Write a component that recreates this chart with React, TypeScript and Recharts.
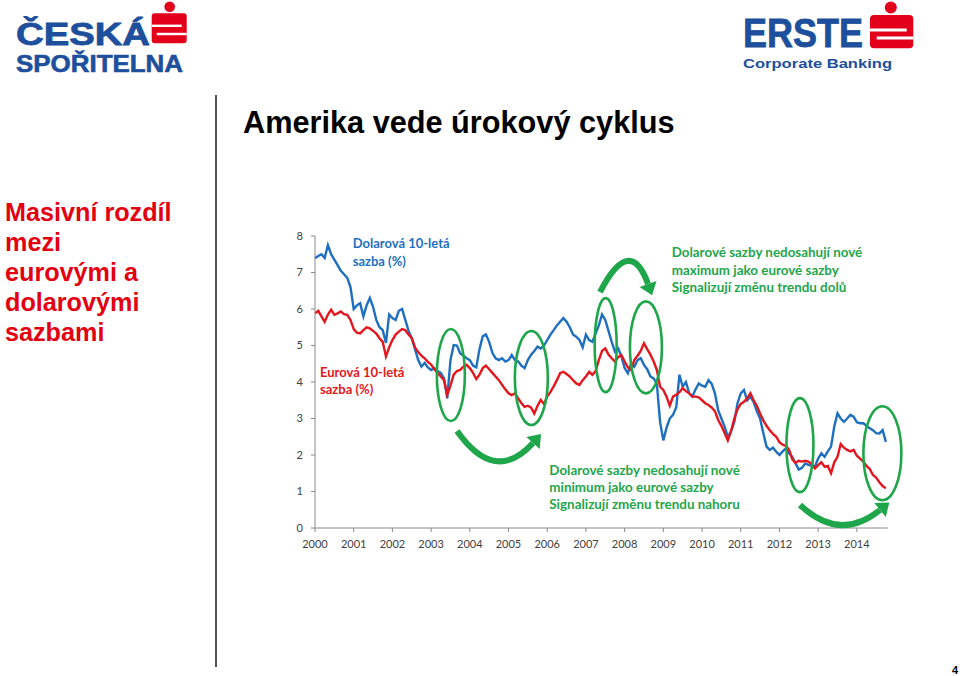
import React from 'react';
import { LineChart, Line, XAxis, YAxis, ReferenceDot } from 'recharts';

const BLUE = '#1f6fc1';
const RED = '#e4161d';
const GREEN = '#1fa64a';
const LOGO_BLUE = '#1d4f9c';
const LOGO_RED = '#e3001b';
const AXIS = '#8a8a8a';

// Monthly 10-year rates, Jan 2000 .. Oct 2014
const START_YEAR = 2000;
const usdRates = [
  7.39, 7.45, 7.5, 7.4, 7.75, 7.5, 7.35, 7.2, 7.05, 6.95, 6.85, 6.6,
  6.0, 6.1, 6.16, 5.8, 6.1, 6.3, 6.06, 5.7, 5.5, 5.42, 5.07, 5.85,
  5.75, 5.7, 5.95, 6.0, 5.7, 5.4, 5.2, 4.9, 4.6, 4.42, 4.52, 4.4,
  4.33, 4.38, 4.3, 4.25, 4.1, 3.55, 4.6, 5.01, 5.0, 4.79, 4.72, 4.65,
  4.6, 4.45, 4.4, 4.9, 5.25, 5.3, 5.1, 4.8, 4.65, 4.6, 4.65, 4.56,
  4.6, 4.74, 4.6, 4.56, 4.45, 4.38, 4.6, 4.75, 4.85, 4.97, 4.92, 5.0,
  5.15, 5.3, 5.42, 5.55, 5.65, 5.75, 5.65, 5.5, 5.3, 5.24, 5.15, 4.95,
  5.3, 5.15, 5.1, 5.33, 5.55, 5.85, 5.7, 5.4, 5.1, 4.83, 4.92, 4.7,
  4.38, 4.24, 4.5, 4.42, 4.6, 4.65, 4.47, 4.35, 4.15, 4.1, 3.95, 2.9,
  2.4, 2.75, 3.0, 3.1, 3.3, 4.2, 3.87, 4.0, 3.7, 3.6, 3.8, 3.96,
  3.9, 3.87, 4.05, 3.95, 3.69, 3.23, 3.0, 2.78, 2.5, 2.65, 2.9, 3.42,
  3.69, 3.78, 3.5, 3.6, 3.45, 3.2, 3.0, 2.6, 2.23, 2.14, 2.2, 2.09,
  2.0, 2.1, 2.18, 2.05, 1.95, 1.77, 1.6, 1.65, 1.77, 1.73, 1.7, 1.68,
  1.9, 2.05, 1.95, 2.1, 2.23, 2.78, 3.14, 3.0, 2.91, 3.0, 3.1, 3.05,
  2.9, 2.87, 2.87, 2.8, 2.73, 2.68, 2.6, 2.59, 2.68, 2.36,
];
const eurRates = [
  5.88, 5.95, 5.8, 5.65, 5.85, 5.98, 5.84, 5.88, 5.93, 5.86, 5.84, 5.7,
  5.45, 5.35, 5.33, 5.42, 5.5, 5.47, 5.4, 5.33, 5.2, 5.1, 4.7, 4.95,
  5.15, 5.3, 5.38, 5.45, 5.42, 5.3, 5.2, 4.95, 4.82, 4.72, 4.65, 4.55,
  4.48, 4.35, 4.25, 4.15, 4.05, 3.65, 3.9, 4.2, 4.3, 4.33, 4.42, 4.47,
  4.38, 4.25, 4.08, 4.2, 4.38, 4.45, 4.35, 4.25, 4.15, 4.05, 3.92, 3.8,
  3.69, 3.64, 3.69, 3.55, 3.42, 3.32, 3.35, 3.3, 3.14, 3.35, 3.51, 3.4,
  3.6, 3.73, 3.88, 4.05, 4.24, 4.28, 4.22, 4.15, 4.05, 3.96, 3.92, 4.05,
  4.15, 4.28, 4.2, 4.3, 4.6, 4.85, 4.92, 4.75, 4.65, 4.56, 4.68, 4.74,
  4.56, 4.4, 4.33, 4.6, 4.72, 4.85, 5.06, 4.9, 4.75, 4.56, 4.33, 3.87,
  3.78, 3.6, 3.35, 3.6, 3.65, 3.72, 3.83, 3.75, 3.69, 3.6, 3.6, 3.58,
  3.5, 3.42, 3.37, 3.3, 3.2, 2.96, 2.8, 2.6, 2.4, 2.65, 3.0, 3.25,
  3.4, 3.46, 3.55, 3.69, 3.5, 3.35, 3.14, 2.95, 2.8, 2.68, 2.58, 2.5,
  2.35, 2.28, 2.25, 2.14, 1.88, 1.78, 1.84, 1.82, 1.84, 1.82, 1.75, 1.63,
  1.72, 1.8, 1.68, 1.7, 1.5, 1.8, 1.95, 2.3, 2.2, 2.14, 2.1, 2.14,
  1.98, 1.9, 1.82, 1.7, 1.62, 1.45, 1.38, 1.25, 1.15, 1.09,
];
const yearTicks = [2000, 2001, 2002, 2003, 2004, 2005, 2006, 2007, 2008, 2009, 2010, 2011, 2012, 2013, 2014];
const rateTicks = [0, 1, 2, 3, 4, 5, 6, 7, 8];

const data = usdRates.map((usd, i) => ({ t: START_YEAR + i / 12, usd, eur: eurRates[i] }));

// highlight ellipses (centre in data coords, radii in px)
const ellipseMarks = [
  { x: 2003.51, y: 4.19, rx: 14, ry: 46 },
  { x: 2005.59, y: 4.11, rx: 16.5, ry: 47 },
  { x: 2007.51, y: 5.01, rx: 11, ry: 47 },
  { x: 2008.55, y: 4.95, rx: 16, ry: 46 },
  { x: 2012.53, y: 2.27, rx: 13.5, ry: 47 },
  { x: 2014.66, y: 2.05, rx: 19, ry: 47 },
];

const arrowMarks = [
  { x: 2008, y: 6.52, d: 'M -24.6 2 Q 5.4 -56 23.4 -6', head: '27.4,5.3 31.9,-9 14.9,-3' },
  { x: 2005, y: 2.0, d: 'M -51.5 -24 Q -13.5 30 24.5 -12', head: '32.5,-21 31.2,-6 17.8,-18' },
  { x: 2013, y: 0.5, d: 'M -18.1 -4.75 Q 21.9 32.75 61.9 0.25', head: '71.2,-7.35 67.6,7.25 56.2,-6.75' },
];

const ellipseShape = (rx: number, ry: number) => (p: any) => (
  <ellipse cx={p.cx} cy={p.cy} rx={rx} ry={ry} fill="none" stroke={GREEN} strokeWidth={2.6} />
);
const arrowShape = (d: string, head: string) => (p: any) => (
  <g transform={`translate(${p.cx},${p.cy})`}>
    <path d={d} fill="none" stroke={GREEN} strokeWidth={6} />
    <polygon points={head} fill={GREEN} />
  </g>
);

const NOTE_FONT = 'Lato, "Open Sans", sans-serif';
const SANS = '"Liberation Sans", Arial, sans-serif';

const leftLines = ['Masivní rozdíl', 'mezi', 'eurovými a', 'dolarovými', 'sazbami'];
const topNote = ['Dolarové sazby nedosahují nové', 'maximum jako eurové sazby', 'Signalizují změnu trendu dolů'];
const bottomNote = ['Dolarové sazby nedosahují nové', 'minimum jako eurové sazby', 'Signalizují změnu trendu nahoru'];

export default function App() {
  return (
    <div style={{ position: 'absolute', left: 0, top: 0, width: 960, height: 676, background: '#fff', overflow: 'hidden' }}>
      <svg width={960} height={676} style={{ position: 'absolute', left: 0, top: 0 }}>
        {/* Česká spořitelna logo */}
        <text x={16} y={45} fontFamily={SANS} fontWeight={700} fontSize={32} fill={LOGO_BLUE} stroke={LOGO_BLUE} strokeWidth={0.8} textLength={134} lengthAdjust="spacingAndGlyphs">ČESKÁ</text>
        <text x={16} y={71.5} fontFamily={SANS} fontWeight={700} fontSize={23.5} fill={LOGO_BLUE} stroke={LOGO_BLUE} strokeWidth={0.6} textLength={167} lengthAdjust="spacingAndGlyphs">SPOŘITELNA</text>
        <circle cx={169.7} cy={6.8} r={5.3} fill={LOGO_RED} />
        <rect x={151.7} y={13.3} width={35} height={30} rx={3} fill={LOGO_RED} />
        <rect x={151.7} y={24.6} width={30} height={2.4} fill="#fff" />
        <rect x={156.7} y={32.8} width={30} height={2.4} fill="#fff" />
        {/* Erste logo */}
        <text x={743} y={46.5} fontFamily={SANS} fontWeight={700} fontSize={41} fill={LOGO_BLUE} stroke={LOGO_BLUE} strokeWidth={0.8} textLength={120} lengthAdjust="spacingAndGlyphs">ERSTE</text>
        <circle cx={890.8} cy={7.5} r={6} fill={LOGO_RED} />
        <rect x={870} y={15} width={43.3} height={33.3} rx={4} fill={LOGO_RED} />
        <rect x={870} y={28.5} width={36.7} height={3} fill="#fff" />
        <rect x={876.7} y={36.5} width={36.6} height={3} fill="#fff" />
        <text x={743} y={68} fontFamily={SANS} fontWeight={700} fontSize={13.5} fill={LOGO_BLUE} textLength={149} lengthAdjust="spacingAndGlyphs">Corporate Banking</text>

        {/* title */}
        <text x={243} y={133} fontFamily={SANS} fontWeight={700} fontSize={30.7} fill="#000">Amerika vede úrokový cyklus</text>
        {/* left text */}
        {leftLines.map((s, i) => (
          <text key={s} x={5} y={221 + i * 29.9} fontFamily={SANS} fontWeight={700} fontSize={25.2} fill="#e3000f">{s}</text>
        ))}
        <line x1={216} y1={95} x2={216} y2={667} stroke="#1a1a1a" strokeWidth={1.5} />
        <text x={952} y={674} fontFamily={SANS} fontWeight={700} fontSize={11} fill="#000">4</text>

        {/* series labels */}
        <text x={352.7} y={248} fontFamily={NOTE_FONT} fontWeight={700} fontSize={13} fill={BLUE}>Dolarová 10-letá</text>
        <text x={352.7} y={266} fontFamily={NOTE_FONT} fontWeight={700} fontSize={13} fill={BLUE}>sazba (%)</text>
        <text x={320} y={377} fontFamily={NOTE_FONT} fontWeight={700} fontSize={13} fill={RED}>Eurová 10-letá</text>
        <text x={320} y={394} fontFamily={NOTE_FONT} fontWeight={700} fontSize={13} fill={RED}>sazba (%)</text>
        {topNote.map((s, i) => (
          <text key={'t' + i} x={671.7} y={257 + i * 17.5} fontFamily={NOTE_FONT} fontWeight={700} fontSize={13.4} fill={GREEN}>{s}</text>
        ))}
        {bottomNote.map((s, i) => (
          <text key={'b' + i} x={549.3} y={474.5 + i * 17.3} fontFamily={NOTE_FONT} fontWeight={700} fontSize={13.4} fill={GREEN}>{s}</text>
        ))}
      </svg>

      <div style={{ position: 'absolute', left: 250, top: 200 }}>
        <LineChart width={680} height={370} data={data} margin={{ top: 36, right: 42.2, bottom: 12, left: 25 }}>
          <XAxis
            dataKey="t"
            type="number"
            domain={[2000, 2014.8]}
            ticks={yearTicks}
            interval={0}
            height={30}
            tickSize={4}
            tickMargin={8}
            axisLine={{ stroke: AXIS }}
            tickLine={{ stroke: AXIS }}
            tick={{ fontSize: 11, fill: '#404040', fontFamily: NOTE_FONT }}
          />
          <YAxis
            type="number"
            domain={[0, 8]}
            ticks={rateTicks}
            interval={0}
            width={40}
            tickSize={4}
            tickMargin={8}
            axisLine={{ stroke: AXIS }}
            tickLine={{ stroke: AXIS }}
            tick={{ fontSize: 11, fill: '#404040', fontFamily: NOTE_FONT }}
          />
          <Line type="linear" dataKey="usd" stroke={BLUE} strokeWidth={2.4} dot={false} isAnimationActive={false} />
          <Line type="linear" dataKey="eur" stroke={RED} strokeWidth={2.4} dot={false} isAnimationActive={false} />
          {ellipseMarks.map((e, i) => (
            <ReferenceDot key={'e' + i} x={e.x} y={e.y} ifOverflow="visible" shape={ellipseShape(e.rx, e.ry)} />
          ))}
          {arrowMarks.map((a, i) => (
            <ReferenceDot key={'a' + i} x={a.x} y={a.y} ifOverflow="visible" shape={arrowShape(a.d, a.head)} />
          ))}
        </LineChart>
      </div>
    </div>
  );
}
